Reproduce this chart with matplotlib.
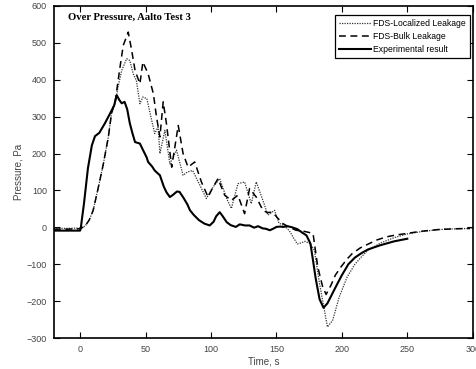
import matplotlib
matplotlib.use("Agg")
import matplotlib.pyplot as plt
import numpy as np

plt.rcParams['font.family'] = ['Liberation Sans', 'DejaVu Sans']

#%% data
t_exp = [-20, -10, 0, 0.5, 3, 6, 9, 11.4, 14.7, 19, 23, 26, 28, 30, 31.8, 34, 36, 38,
         40, 42, 45.7, 48, 50.8, 52, 55, 57, 59.4, 61, 64, 66, 68.6, 71, 74, 76, 79,
         82, 84, 87, 91, 95, 99, 102, 104, 106.7, 109, 112, 115, 119, 122, 126, 129.5,
         133, 136, 139.6, 142, 145, 148, 150, 153, 155, 158.5, 162, 166, 170, 173, 176,
         178, 180, 183, 186, 189, 192, 196, 200, 205, 210, 215, 220, 229, 240, 250]
p_exp = [-9, -9, -9, -3, 65, 160, 222, 247, 256, 282, 309, 330, 358, 345, 336, 340, 320, 282,
         255, 231, 227, 210, 190, 177, 165, 154, 146, 141, 110, 95, 82, 88, 97, 96, 80,
         62, 46, 33, 19, 10, 5, 15, 30, 41, 30, 14, 6, 1, 8, 5, 5,
         -1, 3, -3, -4, -8, -3, 1, 2, 1, 3, 0, -5, -15, -22, -44,
         -90, -138, -195, -218, -206, -185, -157, -130, -100, -82, -70, -60, -49, -38, -31]

t_bulk = [-20, -10, 0, 3.8, 7, 10, 14, 17.8, 21.6, 24, 27, 30.5, 33, 36.8, 39.4, 42, 45.7,
          48, 52, 56, 58.4, 61, 63.5, 66, 70, 75, 78.7, 82.5, 87.6, 92.7, 97.8, 101,
          105.4, 110.5, 115.6, 120.6, 125.7, 129.5, 134.6, 139.7, 143, 147, 151, 155,
          160, 165, 170, 175, 178, 181.6, 185.4, 188, 191.7, 195, 199.4, 204, 208, 214,
          221, 227, 234, 241, 249, 260, 274, 286, 298]
p_bulk = [-5, -5, -4, 3, 20, 46, 109, 172, 245, 308, 345, 434, 493, 529, 480, 425, 389,
          448, 416, 362, 299, 245, 340, 281, 163, 276, 200, 163, 177, 123, 82, 105,
          132, 87, 73, 87, 37, 105, 82, 46, 40, 41, 25, 10,
          0, -8, -10, -14, -17, -107, -162, -182, -157, -130, -107, -86, -71, -56,
          -44, -34, -26, -21, -17, -11, -6, -4, -3]

t_loc = [-20, -10, 0, 3.8, 7, 10, 14, 17.8, 21.6, 24, 26.7, 29, 31.8, 35.6, 38, 40.6, 43,
         45.7, 48, 51, 53, 57, 59.6, 61, 64.8, 68.6, 73.7, 78.7, 82, 86, 91, 96.5,
         101.6, 106.7, 112, 115.6, 120.6, 125.7, 130.8, 134.6, 139.7, 143.5, 148.6,
         152, 156, 160, 163, 166, 169, 172, 176, 179, 183, 186.7, 189, 193, 198, 204,
         210, 215, 220, 230, 240, 250, 262, 275, 288, 300]
p_loc = [-3, -3, -2, 3, 20, 46, 109, 172, 245, 308, 335, 380, 425, 457, 452, 416, 398,
         335, 353, 349, 317, 254, 272, 200, 263, 172, 209, 141, 150, 154, 118, 78,
         109, 132, 78, 51, 118, 123, 64, 123, 73, 33, 46,
         11, 5, -10, -28, -45, -42, -38, -45, -62, -153, -225, -270, -252, -189, -135,
         -100, -80, -62, -42, -28, -18, -11, -6, -4, -3]

#%% plot
fig = plt.figure(figsize=(4.77, 3.69), dpi=100)
ax = fig.add_axes([0.113, 0.084, 0.878, 0.9])

ax.plot(t_loc, p_loc, c="#333333", linestyle=(0, (1, 1)), lw=0.9,
        label="FDS-Localized Leakage")
ax.plot(t_bulk, p_bulk, c="k", linestyle=(0, (4.5, 3)), lw=1.1,
        label="FDS-Bulk Leakage")
ax.plot(t_exp, p_exp, c="k", linestyle="-", lw=1.5,
        label="Experimental result")

ax.set_xlim([-20, 300])
ax.set_ylim([-300, 600])
ax.set_xticks(np.arange(0, 301, 50))
ax.set_yticks(np.arange(-300, 601, 100))
ax.tick_params(direction="in", top=True, right=True, length=4, width=0.8,
               labelsize=6.5, labelcolor="#444444", pad=5)
for s in ax.spines.values():
    s.set_linewidth(1.2)

ax.set_xlabel("Time, s", fontsize=7, color="#444444", labelpad=2)
ax.set_ylabel("Pressure, Pa", fontsize=7, color="#444444", labelpad=2)

ax.text(0.033, 0.967, "Over Pressure, Aalto Test 3", transform=ax.transAxes,
        family="Liberation Serif", fontweight="bold", fontsize=7.7, va="center")

leg = ax.legend(loc="upper right", bbox_to_anchor=(0.993, 0.973), borderaxespad=0,
                fontsize=6.2, handlelength=3.7, fancybox=False, framealpha=1,
                edgecolor="k", borderpad=0.45, handletextpad=0.3)
leg.get_frame().set_linewidth(0.9)

plt.savefig("out.png", dpi=100)
